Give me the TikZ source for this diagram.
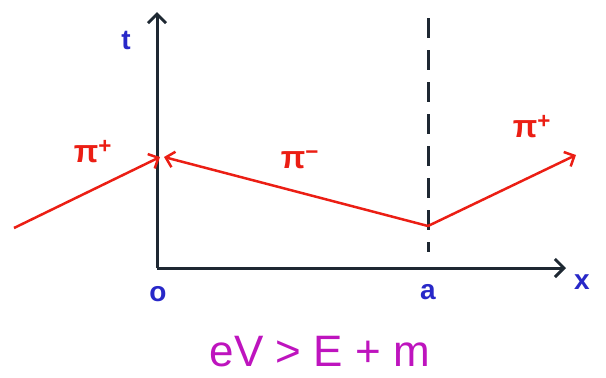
\documentclass[tikz,border=0pt]{standalone}
\usepackage{fontspec}
\setmainfont{Liberation Sans}
\usepackage{tikz}
\usetikzlibrary{arrows.meta}
\definecolor{axisink}{RGB}{30,40,50}
\definecolor{pionred}{RGB}{235,30,20}
\definecolor{labelblue}{RGB}{40,40,200}
\definecolor{condmagenta}{RGB}{190,20,190}

\begin{document}
\begin{tikzpicture}[x=1pt, y=-1pt, font=\bfseries,
    axis/.style={axisink, line width=3pt, -{Straight Barb[length=9pt, width=18pt]}},
    pion/.style={pionred, line width=2.5pt, -{Straight Barb[length=8pt, width=16pt]}},
    lbl/.style={labelblue, font=\fontsize{28}{28}\selectfont\bfseries},
    plbl/.style={pionred, font=\fontsize{32}{32}\selectfont\bfseries}]
  \useasboundingbox (0,0) rectangle (606,378);
  % axes
  \coordinate (origin) at (157,268);
  \coordinate (ttop) at (157,12);
  \coordinate (xend) at (566,268);
  \draw[axis] (origin) -- (ttop);
  \draw[axis] (origin) -- (xend);
  % barrier edge at a
  \coordinate (dtop) at (428,18);
  \coordinate (dbot) at (428,252);
  \draw[axisink, line width=3pt, dash pattern=on 20pt off 12pt] (dtop) -- (dbot);
  % pion world lines
  \coordinate (pstart) at (14,228);
  \coordinate (pin) at (160,157);
  \coordinate (pout) at (164,157);
  \coordinate (pturn) at (428,226);
  \coordinate (pend) at (576,155);
  \draw[pion] (pstart) -- (pin);
  \draw[pion] (pturn) -- (pout);
  \draw[pion] (pturn) -- (pend);
  % labels
  \node[lbl] (tlbl) at (126,40) {t};
  \node[lbl] (olbl) at (158,294) {o};
  \node[lbl] (albl) at (428,292) {a};
  \node[lbl] (xlbl) at (582,282) {x};
  \node[plbl] (pileft) at (93,152) {π\textsuperscript{+}};
  \node[plbl] (pimid) at (300,160) {π\textsuperscript{−}};
  \node[plbl] (piright) at (532,127) {π\textsuperscript{+}};
  \node[condmagenta, font=\fontsize{44}{44}\selectfont] (cond) at (320,352) {eV > E + m};
\end{tikzpicture}
\end{document}
